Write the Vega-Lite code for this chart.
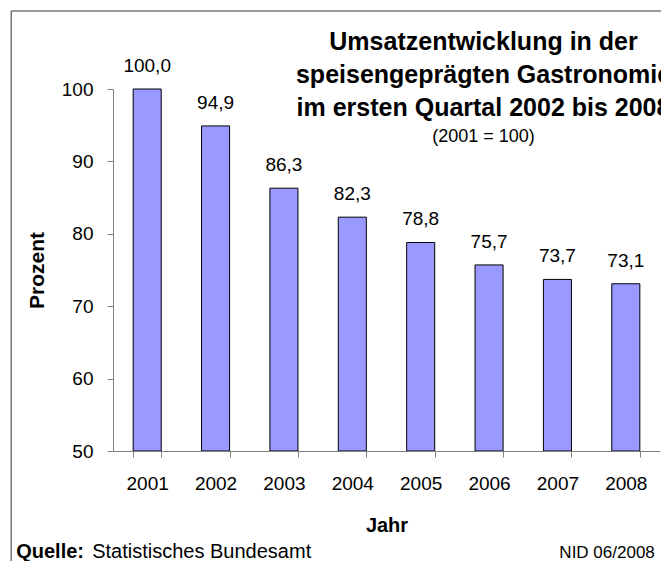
{
  "$schema": "https://vega.github.io/schema/vega-lite/v6.json",
  "width": 547,
  "height": 362,
  "autosize": {"type": "none"},
  "padding": {"left": 113, "top": 89, "right": 1, "bottom": 110},
  "background": "white",
  "config": {
    "font": "Liberation Sans",
    "view": {"stroke": null},
    "locale": {"number": {"decimal": ",", "thousands": ".", "grouping": [3], "currency": ["", " €"]}}
  },
  "title": {
    "text": ["Umsatzentwicklung in der", "speisengeprägten Gastronomie", "im ersten Quartal 2002 bis 2008"],
    "subtitle": "(2001 = 100)",
    "anchor": "middle",
    "frame": "group",
    "dx": 97,
    "dy": 135,
    "fontSize": 25,
    "fontWeight": "bold",
    "lineHeight": 33,
    "color": "black",
    "subtitleFontSize": 18,
    "subtitleColor": "black",
    "subtitlePadding": 7,
    "offset": 0
  },
  "data": {
    "values": [
      {"Jahr": "2001", "Prozent": 100.0},
      {"Jahr": "2002", "Prozent": 94.9},
      {"Jahr": "2003", "Prozent": 86.3},
      {"Jahr": "2004", "Prozent": 82.3},
      {"Jahr": "2005", "Prozent": 78.8},
      {"Jahr": "2006", "Prozent": 75.7},
      {"Jahr": "2007", "Prozent": 73.7},
      {"Jahr": "2008", "Prozent": 73.1}
    ]
  },
  "encoding": {
    "x": {
      "field": "Jahr",
      "type": "nominal",
      "scale": {"paddingInner": 0.59, "paddingOuter": 0.295},
      "axis": {
        "labelAngle": 0,
        "labelFontSize": 19,
        "labelColor": "black",
        "labelPadding": 17,
        "tickBand": "extent",
        "tickSize": 6,
        "tickColor": "#808080",
        "domainColor": "#808080",
        "title": "Jahr",
        "titleFontSize": 20,
        "titleFontWeight": "bold",
        "titleColor": "black",
        "titlePadding": 22
      }
    },
    "y": {
      "field": "Prozent",
      "type": "quantitative",
      "scale": {"domain": [50, 100], "zero": false, "nice": false},
      "axis": {
        "values": [50, 60, 70, 80, 90, 100],
        "grid": false,
        "labelFontSize": 19,
        "labelColor": "black",
        "labelPadding": 14,
        "tickSize": 6,
        "tickColor": "#808080",
        "domainColor": "#808080",
        "title": "Prozent",
        "titleFontSize": 21,
        "titleFontWeight": "bold",
        "titleColor": "black",
        "titlePadding": 14
      }
    }
  },
  "layer": [
    {
      "transform": [{"filter": "datum.Jahr == '2001'"}],
      "mark": {"type": "rect", "fill": null, "stroke": "#333333", "strokeWidth": 1, "xOffset": -122, "x2Offset": 40, "yOffset": -78, "y2Offset": 150},
      "encoding": {
        "x": {"datum": "2001", "bandPosition": 0},
        "x2": {"datum": "2008"},
        "y": {"datum": 100},
        "y2": {"datum": 50}
      }
    },
    {
      "mark": {"type": "bar", "fill": "#9999FF", "stroke": "black", "strokeWidth": 1},
      "encoding": {"y2": {"datum": 50}}
    },
    {
      "mark": {"type": "text", "fontSize": 19, "baseline": "alphabetic", "dy": -17, "color": "black"},
      "encoding": {"text": {"field": "Prozent", "type": "quantitative", "format": ".1f"}}
    },
    {
      "transform": [{"filter": "datum.Jahr == '2001'"}],
      "mark": {"type": "text", "text": "Quelle:", "fontSize": 20, "fontWeight": "bold", "align": "left", "baseline": "alphabetic", "dx": -131, "dy": 107, "color": "black"},
      "encoding": {"x": {"datum": "2001"}, "y": {"datum": 50}}
    },
    {
      "transform": [{"filter": "datum.Jahr == '2001'"}],
      "mark": {"type": "text", "text": "Statistisches Bundesamt", "fontSize": 20, "align": "left", "baseline": "alphabetic", "dx": -55, "dy": 107, "color": "black"},
      "encoding": {"x": {"datum": "2001"}, "y": {"datum": 50}}
    },
    {
      "transform": [{"filter": "datum.Jahr == '2008'"}],
      "mark": {"type": "text", "text": "NID 06/2008", "fontSize": 17, "align": "right", "baseline": "alphabetic", "dx": 29, "dy": 107, "color": "black"},
      "encoding": {"x": {"datum": "2008"}, "y": {"datum": 50}}
    }
  ]
}
